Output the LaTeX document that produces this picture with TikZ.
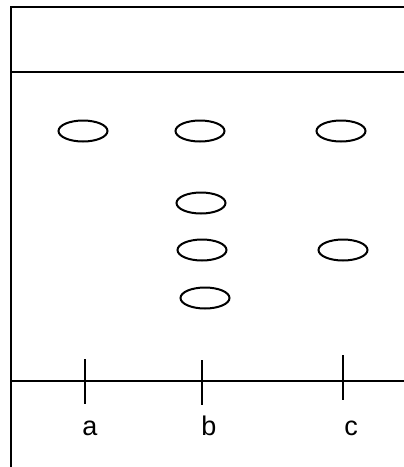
\documentclass[tikz,border=0pt]{standalone}
\usepackage{fontspec}
\setmainfont{Liberation Sans}
\usetikzlibrary{shapes.geometric}
\begin{document}
\begin{tikzpicture}[x=1pt,y=-1pt,
  ln/.style={line width=2pt},
  spot/.style={draw,line width=2pt,ellipse,inner sep=0pt,minimum width=49pt,minimum height=21pt},
  lbl/.style={font=\fontsize{27}{30}\selectfont,anchor=base,inner sep=0pt}]
\useasboundingbox (0,0) rectangle (404,467);
\coordinate (tl) at (11,7);
\coordinate (tr) at (404,7);
\coordinate (bl) at (11,467);
\coordinate (ml) at (11,72);
\coordinate (mr) at (404,72);
\coordinate (sl) at (11,381);
\coordinate (sr) at (404,381);
\draw[ln] (tr) -- (tl) -- (bl);
\draw[ln] (ml) -- (mr);
\draw[ln] (sl) -- (sr);
\coordinate (ta1) at (85,359); \coordinate (ta2) at (85,404);
\coordinate (tb1) at (202,360); \coordinate (tb2) at (202,405);
\coordinate (tc1) at (343,355); \coordinate (tc2) at (343,400);
\draw[ln] (ta1) -- (ta2);
\draw[ln] (tb1) -- (tb2);
\draw[ln] (tc1) -- (tc2);
\node[lbl] (la) at (90,435) {a};
\node[lbl] (lb) at (209,435) {b};
\node[lbl] (lc) at (351,435) {c};
\node[spot] (a1) at (83,131) {};
\node[spot] (b1) at (200,131) {};
\node[spot] (b2) at (201,203) {};
\node[spot] (b3) at (202,250) {};
\node[spot] (b4) at (205,298) {};
\node[spot] (c1) at (341,131) {};
\node[spot] (c2) at (343,250) {};
\end{tikzpicture}
\end{document}
